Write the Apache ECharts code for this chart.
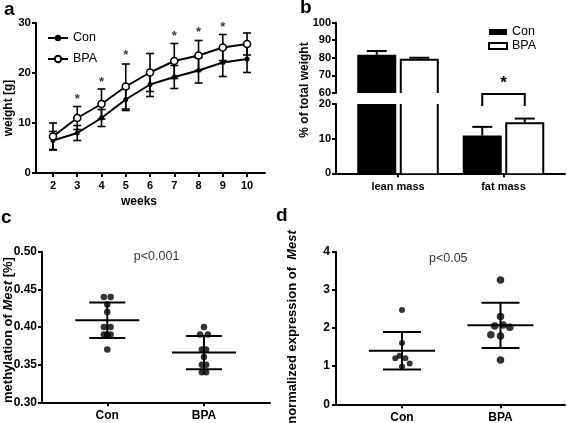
<!DOCTYPE html>
<html><head><meta charset="utf-8">
<script src="https://cdn.jsdelivr.net/npm/echarts@6/dist/echarts.min.js"></script>
<style>html,body{margin:0;padding:0;background:#fff}#c{width:567px;height:423px}</style>
</head><body><div id="c"></div>
<script>
// ---------- Panel a: body weight ----------
const weeks = [2, 3, 4, 5, 6, 7, 8, 9, 10];
const conWeight = [6.5, 8.0, 11.0, 14.7, 17.7, 19.2, 20.5, 22.1, 22.8];
const conWeightSD = [1.8, 1.5, 1.7, 2.2, 2.4, 2.3, 2.5, 2.8, 2.7];
const bpaWeight = [7.3, 11.0, 13.8, 17.3, 20.1, 22.4, 23.5, 25.1, 25.8];
const bpaWeightSD = [2.7, 2.3, 3.0, 4.5, 3.8, 3.5, 3.0, 2.6, 2.2];
const starWeeks = [3, 4, 5, 7, 8, 9, 10];
const starLevel = [15.3, 18.8, 24.1, 28.0, 28.8, 29.8, 30.2];

// ---------- Panel b: body composition ----------
const bodyCats = ['lean mass', 'fat mass'];
const conBody = [81.7, 10.9];
const conBodyErr = [2.1, 2.5];
const bpaBody = [79.4, 14.7];
const bpaBodyErr = [0.6, 1.1];
const bracketLow = 19.4, bracketHigh = 22.9, bracketStar = 27.0;

// ---------- Panel c: methylation ----------
const groups = ['Con', 'BPA'];
const conMeth = [0.44, 0.44, 0.43, 0.42, 0.40, 0.40, 0.39, 0.39, 0.39, 0.37];
const conMethJit = [-0.035, 0.035, 0, 0, -0.035, 0.035, -0.035, 0, 0.035, 0];
const bpaMeth = [0.40, 0.39, 0.39, 0.37, 0.37, 0.36, 0.35, 0.35, 0.34, 0.34];
const bpaMethJit = [0, -0.04, 0.04, -0.022, 0.022, 0, -0.022, 0.022, -0.022, 0.022];
const methMean = [0.409, 0.366];
const methSD = [0.0235, 0.022];

// ---------- Panel d: expression ----------
const conExpr = [2.47, 1.61, 1.21, 1.27, 1.21, 1.07, 0.99];
const conExprJit = [0, 0, -0.068, -0.024, 0.034, 0.078, 0];
const bpaExpr = [3.26, 2.30, 2.05, 2.08, 2.02, 1.82, 1.79, 1.16];
const bpaExprJit = [0, 0, -0.058, 0.027, 0.095, -0.098, 0, 0];
const exprMean = [1.405, 2.07];
const exprSD = [0.49, 0.595];

const FF = '"Liberation Sans", Arial, sans-serif';
const K = '#000';

const chart = echarts.init(document.getElementById('c'), null, {renderer: 'canvas'});

function axLine() { return {show: true, onZero: false, lineStyle: {color: K, width: 2}}; }
function axTick(len) { return {show: true, length: len || 4, lineStyle: {color: K, width: 2}}; }
function axLabel(size, margin) { return {color: K, fontFamily: FF, fontWeight: 'bold', fontSize: size, margin: margin}; }

function errRender(capPx, upOnly, offsetPx) {
  return function (params, api) {
    const x = api.value(0), y = api.value(1), e = api.value(2);
    const c = api.coord([x, y]);
    const hi = api.coord([x, y + e]);
    const lo = upOnly ? c : api.coord([x, y - e]);
    const px = c[0] + (offsetPx || 0);
    const st = {stroke: K, lineWidth: upOnly ? 2 : 1.6};
    const ch = [
      {type: 'line', shape: {x1: px, y1: lo[1], x2: px, y2: hi[1]}, style: st},
      {type: 'line', shape: {x1: px - capPx / 2, y1: hi[1], x2: px + capPx / 2, y2: hi[1]}, style: st}
    ];
    if (!upOnly) ch.push({type: 'line', shape: {x1: px - capPx / 2, y1: lo[1], x2: px + capPx / 2, y2: lo[1]}, style: st});
    return {type: 'group', children: ch};
  };
}
function meanSdRender(meanHalfPx, capHalfPx) {
  return function (params, api) {
    const x = api.value(0), m = api.value(1), s = api.value(2);
    const c = api.coord([x, m]), t = api.coord([x, m + s]), b = api.coord([x, m - s]);
    const st = {stroke: K, lineWidth: 2};
    return {type: 'group', children: [
      {type: 'line', shape: {x1: c[0] - meanHalfPx, y1: c[1], x2: c[0] + meanHalfPx, y2: c[1]}, style: st},
      {type: 'line', shape: {x1: c[0], y1: t[1], x2: c[0], y2: b[1]}, style: st},
      {type: 'line', shape: {x1: c[0] - capHalfPx, y1: t[1], x2: c[0] + capHalfPx, y2: t[1]}, style: st},
      {type: 'line', shape: {x1: c[0] - capHalfPx, y1: b[1], x2: c[0] + capHalfPx, y2: b[1]}, style: st}
    ]};
  };
}
// outline of a bar, left open where the bar is cut by the axis break
function outlineRender(offsetPx, halfW) {
  return function (params, api) {
    const cs = params.coordSys;
    const x = api.value(0), v = api.value(1);
    const top = api.coord([x, v]), base = api.coord([x, 0]);
    const cx = top[0] + offsetPx;
    const yTop = Math.max(top[1], cs.y), yBot = Math.min(base[1], cs.y + cs.height);
    if (yTop >= yBot) return null;
    const l = cx - halfW, r = cx + halfW;
    const st = {stroke: K, lineWidth: 2, fill: null};
    if (top[1] >= cs.y) {
      return {type: 'polyline', shape: {points: [[l, yBot], [l, yTop + 1], [r, yTop + 1], [r, yBot]]}, style: st};
    }
    return {type: 'group', children: [
      {type: 'line', shape: {x1: l, y1: yTop, x2: l, y2: yBot}, style: st},
      {type: 'line', shape: {x1: r, y1: yTop, x2: r, y2: yBot}, style: st}
    ]};
  };
}

const barW = 39, barGapRatio = 0.09;
const barOff = (barW + barW * barGapRatio) / 2;

const zip = (xs, ys, es) => xs.map((x, i) => es ? [x, ys[i], es[i]] : [x, ys[i]]);
const catIdx = bodyCats.map((_, i) => i);

function bSeries(ax) {
  return [
    {name: 'Con ', type: 'bar', xAxisIndex: ax, yAxisIndex: ax, barWidth: barW, barGap: '9%', data: zip(catIdx, conBody),
      itemStyle: {color: K}},
    {name: 'BPA ', type: 'bar', xAxisIndex: ax, yAxisIndex: ax, barWidth: barW, barGap: '9%', data: zip(catIdx, bpaBody),
      itemStyle: {color: '#fff'}},
    {type: 'custom', xAxisIndex: ax, yAxisIndex: ax, silent: true, z: 3, renderItem: outlineRender(barOff, barW / 2 - 1),
      data: zip(catIdx, bpaBody)},
    {type: 'custom', xAxisIndex: ax, yAxisIndex: ax, silent: true, z: 3, renderItem: errRender(20, true, -barOff),
      data: zip(catIdx, conBody, conBodyErr).filter(d => ax === 1 ? d[1] >= 60 : d[1] < 20)},
    {type: 'custom', xAxisIndex: ax, yAxisIndex: ax, silent: true, z: 3, renderItem: errRender(20, true, barOff),
      data: zip(catIdx, bpaBody, bpaBodyErr).filter(d => ax === 1 ? d[1] >= 60 : d[1] < 20)}
  ];
}

const option = {
  animation: false,
  backgroundColor: '#fff',
  textStyle: {fontFamily: FF, color: K},
  grid: [
    {left: 36, top: 23, width: 229, height: 150, outerBoundsMode: 'none'},
    {left: 336, top: 22.5, width: 229, height: 70.5, outerBoundsMode: 'none'},
    {left: 336, top: 104, width: 229, height: 69.3, outerBoundsMode: 'none'},
    {left: 42, top: 251.7, width: 228, height: 150.6, outerBoundsMode: 'none'},
    {left: 336, top: 251.7, width: 229, height: 152.6, outerBoundsMode: 'none'}
  ],
  xAxis: [
    {gridIndex: 0, type: 'value', min: 1.3, max: 10.74, axisLine: axLine(), splitLine: {show: false},
      axisTick: Object.assign(axTick(4), {customValues: weeks}),
      axisLabel: Object.assign(axLabel(11, 7), {customValues: weeks})},
    {gridIndex: 1, type: 'value', min: -0.588, max: 1.583, show: false},
    {gridIndex: 2, type: 'value', min: -0.588, max: 1.583, axisLine: axLine(), splitLine: {show: false},
      axisTick: Object.assign(axTick(4), {customValues: catIdx}),
      axisLabel: Object.assign(axLabel(11, 8), {customValues: catIdx, formatter: v => bodyCats[Math.round(v)]})},
    {gridIndex: 3, type: 'value', min: -0.675, max: 1.683, axisLine: axLine(), splitLine: {show: false},
      axisTick: Object.assign(axTick(4), {customValues: [0, 1]}),
      axisLabel: Object.assign(axLabel(12, 7), {customValues: [0, 1], formatter: v => groups[Math.round(v)]})},
    {gridIndex: 4, type: 'value', min: -0.67, max: 1.655, axisLine: axLine(), splitLine: {show: false},
      axisTick: Object.assign(axTick(4), {customValues: [0, 1]}),
      axisLabel: Object.assign(axLabel(12, 7), {customValues: [0, 1], formatter: v => groups[Math.round(v)]})}
  ],
  yAxis: [
    {gridIndex: 0, type: 'value', min: 0, max: 30, interval: 10, axisLine: axLine(), axisTick: axTick(4),
      axisLabel: axLabel(11.5, 5), splitLine: {show: false}},
    {gridIndex: 1, type: 'value', min: 60, max: 100, interval: 10, axisLine: axLine(), axisTick: axTick(4),
      axisLabel: axLabel(11, 5), splitLine: {show: false}},
    {gridIndex: 2, type: 'value', min: 0, max: 20, interval: 10, axisLine: axLine(), axisTick: axTick(4),
      axisLabel: axLabel(11, 5), splitLine: {show: false}},
    {gridIndex: 3, type: 'value', min: 0.30, max: 0.50, interval: 0.05, axisLine: axLine(), axisTick: axTick(4),
      axisLabel: Object.assign(axLabel(12, 5), {formatter: v => v.toFixed(2)}), splitLine: {show: false}},
    {gridIndex: 4, type: 'value', min: 0, max: 4, interval: 1, axisLine: axLine(), axisTick: axTick(4),
      axisLabel: axLabel(12, 6), splitLine: {show: false}}
  ],
  legend: [
    {data: ['Con', 'BPA'], left: 47, top: 30.5, padding: 0, orient: 'vertical', itemWidth: 20, itemHeight: 8, itemGap: 6,
      selectedMode: false, textStyle: {fontFamily: FF, fontSize: 12.5, color: K, lineHeight: 15}},
    {data: [{name: 'Con ', itemStyle: {color: K, borderWidth: 0}},
            {name: 'BPA ', itemStyle: {color: '#fff', borderColor: K, borderWidth: 2}}],
      left: 488, top: 25.5, padding: 0, orient: 'vertical', icon: 'rect', itemWidth: 18, itemHeight: 6, itemGap: 1,
      selectedMode: false, formatter: n => n.trim(), textStyle: {fontFamily: FF, fontSize: 12.5, color: K, lineHeight: 13}}
  ],
  series: [
    // panel a
    {type: 'custom', xAxisIndex: 0, yAxisIndex: 0, z: 1, silent: true, renderItem: errRender(8, false, 0), data: zip(weeks, conWeight, conWeightSD)},
    {type: 'custom', xAxisIndex: 0, yAxisIndex: 0, z: 1, silent: true, renderItem: errRender(8, false, 0), data: zip(weeks, bpaWeight, bpaWeightSD)},
    {name: 'Con', type: 'line', xAxisIndex: 0, yAxisIndex: 0, z: 3, data: zip(weeks, conWeight),
      symbol: 'circle', symbolSize: 5, itemStyle: {color: K}, lineStyle: {color: K, width: 2}},
    {name: 'BPA', type: 'line', xAxisIndex: 0, yAxisIndex: 0, z: 4, data: zip(weeks, bpaWeight),
      symbol: 'circle', symbolSize: 7, itemStyle: {color: '#fff', borderColor: K, borderWidth: 1.6}, lineStyle: {color: K, width: 2}},
    {type: 'scatter', xAxisIndex: 0, yAxisIndex: 0, symbolSize: 0, silent: true, data: zip(starWeeks, starLevel),
      label: {show: true, position: 'inside', formatter: '*', color: K, fontFamily: FF, fontWeight: 'bold', fontSize: 13, offset: [0, 3]}},
    // panel b (upper and lower part of the broken axis)
    ...bSeries(1),
    ...bSeries(2),
    {type: 'custom', xAxisIndex: 2, yAxisIndex: 2, silent: true, z: 3, data: [[1, bracketLow, bracketHigh, bracketStar]],
      renderItem: function (params, api) {
        const x = api.value(0);
        const lo = api.coord([x, api.value(1)]), hi = api.coord([x, api.value(2)]), st = api.coord([x, api.value(3)]);
        return {type: 'group', children: [
          {type: 'polyline', shape: {points: [[lo[0] - barOff, lo[1]], [lo[0] - barOff, hi[1]], [lo[0] + barOff, hi[1]], [lo[0] + barOff, lo[1]]]},
            style: {stroke: K, lineWidth: 2, fill: null}},
          {type: 'text', x: st[0], y: st[1] + 4, style: {text: '*', fill: K, fontFamily: FF, fontWeight: 'bold', fontSize: 17, align: 'center', verticalAlign: 'middle'}}
        ]};
      }},
    // panel c
    {type: 'custom', xAxisIndex: 3, yAxisIndex: 3, silent: true, renderItem: meanSdRender(32, 18),
      data: zip([0, 1], methMean, methSD)},
    {type: 'scatter', xAxisIndex: 3, yAxisIndex: 3, symbolSize: 6.5, itemStyle: {color: K}, silent: true,
      data: conMeth.map((v, i) => [0 + conMethJit[i], v])},
    {type: 'scatter', xAxisIndex: 3, yAxisIndex: 3, symbolSize: 6.5, itemStyle: {color: K}, silent: true,
      data: bpaMeth.map((v, i) => [1 + bpaMethJit[i], v])},
    {type: 'scatter', xAxisIndex: 3, yAxisIndex: 3, symbolSize: 0, silent: true, data: [{value: [0.51, 0.493], name: 'p<0.001'}],
      label: {show: true, position: 'inside', formatter: '{b}', color: K, fontFamily: FF, fontSize: 12.5}},
    // panel d
    {type: 'custom', xAxisIndex: 4, yAxisIndex: 4, silent: true, renderItem: meanSdRender(33, 19),
      data: zip([0, 1], exprMean, exprSD)},
    {type: 'scatter', xAxisIndex: 4, yAxisIndex: 4, symbolSize: 6, itemStyle: {color: K}, silent: true,
      data: conExpr.map((v, i) => [0 + conExprJit[i], v])},
    {type: 'scatter', xAxisIndex: 4, yAxisIndex: 4, symbolSize: 7.5, itemStyle: {color: K}, silent: true,
      data: bpaExpr.map((v, i) => [1 + bpaExprJit[i], v])},
    {type: 'scatter', xAxisIndex: 4, yAxisIndex: 4, symbolSize: 0, silent: true, data: [{value: [0.47, 3.81], name: 'p<0.05'}],
      label: {show: true, position: 'inside', formatter: '{b}', color: K, fontFamily: FF, fontSize: 12.5}}
  ],
  graphic: [
    {type: 'text', left: 4, top: 0, style: {text: 'a', fill: K, fontFamily: FF, fontWeight: 'bold', fontSize: 19}},
    {type: 'text', left: 300, top: -2, style: {text: 'b', fill: K, fontFamily: FF, fontWeight: 'bold', fontSize: 19}},
    {type: 'text', left: 1, top: 208, style: {text: 'c', fill: K, fontFamily: FF, fontWeight: 'bold', fontSize: 19}},
    {type: 'text', left: 276, top: 206, style: {text: 'd', fill: K, fontFamily: FF, fontWeight: 'bold', fontSize: 19}},
    {type: 'text', x: 9, y: 108, rotation: Math.PI / 2,
      style: {text: 'weight [g]', fill: K, fontFamily: FF, fontWeight: 'bold', fontSize: 12, align: 'center', verticalAlign: 'middle'}},
    {type: 'text', x: 139, y: 202,
      style: {text: 'weeks', fill: K, fontFamily: FF, fontWeight: 'bold', fontSize: 12, align: 'center', verticalAlign: 'middle'}},
    {type: 'text', x: 305, y: 90, rotation: Math.PI / 2,
      style: {text: '% of total weight', fill: K, fontFamily: FF, fontWeight: 'bold', fontSize: 12, align: 'center', verticalAlign: 'middle'}},
    {type: 'text', x: 8, y: 330, rotation: Math.PI / 2,
      style: {text: 'methylation of {i|Mest} [%]', fill: K, fontFamily: FF, fontWeight: 'bold', fontSize: 13, align: 'center', verticalAlign: 'middle',
        rich: {i: {fontStyle: 'italic', fontWeight: 'bold', fontFamily: FF, fontSize: 13, fill: K}}}},
    {type: 'text', x: 292, y: 327, rotation: Math.PI / 2,
      style: {text: 'normalized expression of  {i|Mest}', fill: K, fontFamily: FF, fontWeight: 'bold', fontSize: 13, align: 'center', verticalAlign: 'middle',
        rich: {i: {fontStyle: 'italic', fontWeight: 'bold', fontFamily: FF, fontSize: 13, fill: K}}}}
  ]
};
chart.setOption(option);
</script></body></html>
